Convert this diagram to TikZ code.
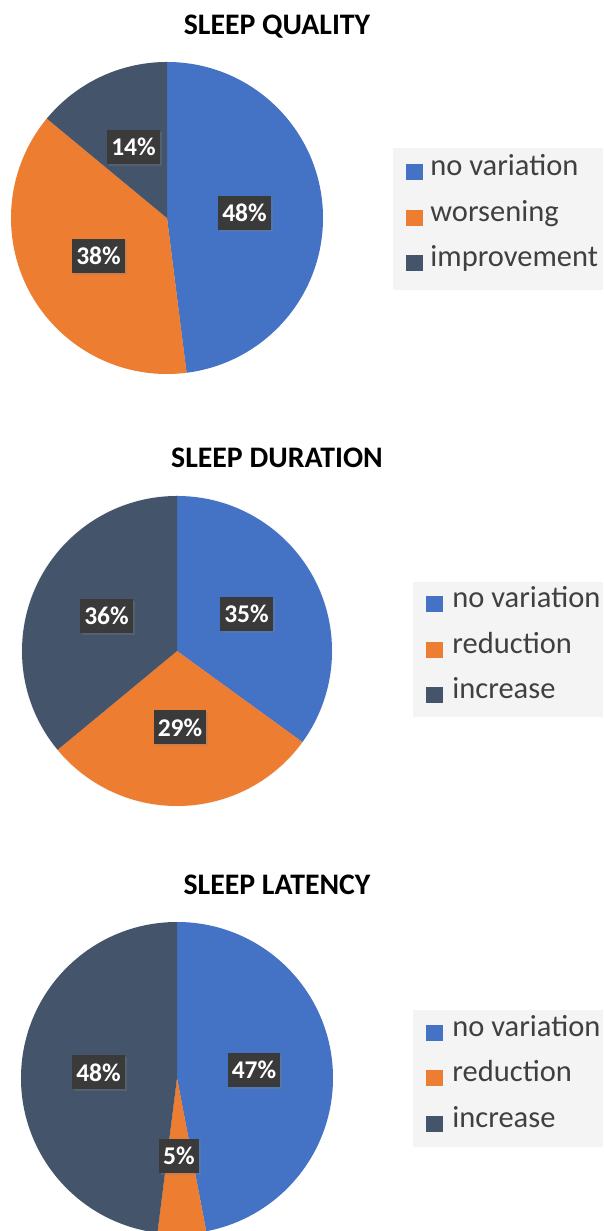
\documentclass[tikz,border=0pt]{standalone}
\usepackage{fontspec}
\setmainfont{Carlito}
\usetikzlibrary{positioning, shadows}

\definecolor{slblue}{HTML}{4472C4}
\definecolor{slorange}{HTML}{ED7D31}
\definecolor{sldark}{HTML}{44546A}
\definecolor{lblbox}{HTML}{3A3A3A}
\definecolor{legbg}{HTML}{F4F4F4}
\definecolor{legtxt}{HTML}{404040}

\begin{document}
\begin{tikzpicture}[
  x=1pt, y=1pt,
  charttitle/.style={font=\fontsize{29.8}{32}\selectfont\bfseries, text=black, anchor=base, inner sep=0pt},
  pct/.style={rectangle, fill=lblbox, text=white, font=\fontsize{25.5}{28}\selectfont\bfseries,
    inner xsep=4pt, inner ysep=0pt, minimum height=34pt,
    drop shadow={opacity=0.3, shadow xshift=2pt, shadow yshift=-2pt}},
  legbox/.style={fill=legbg},
  legsq/.style={rectangle, minimum width=17pt, minimum height=16pt, inner sep=0pt},
  legtext/.style={font=\fontsize{30.5}{32}\selectfont, text=legtxt, inner sep=0pt,
    text height=0.78em, text depth=0.22em},
  pieshadow/.style={fill=black, opacity=0.025}
]
\useasboundingbox[fill=white] (0,0) rectangle (603,1231);

% Pie centres
\coordinate (qc) at (167,1013);
\coordinate (dc) at (177,580);
\coordinate (lc) at (177,153);

% Soft shadows under the pies
\foreach \p in {qc, dc, lc} {
  \foreach \k in {1,...,6} {
    \fill[pieshadow, yshift=-2pt] (\p) circle[radius=150+\k];
  }
}

% Chart 1: sleep quality
\node[charttitle] (t1) at (277,1196) {SLEEP QUALITY};
\foreach \a/\b/\c in {90/-82.8/slblue, -82.8/-219.6/slorange, -219.6/-270/sldark} {
  \fill[\c] (qc) -- ++(\a:156) arc[start angle=\a, end angle=\b, radius=156] -- cycle;
}
\node[pct] (q48) at (244.5,1018) {48\%};
\node[pct] (q14) at (133.5,1084) {14\%};
\node[pct] (q38) at (98.5,975) {38\%};

\fill[legbox] (393,941) rectangle (603,1083);
\node[legsq, fill=slblue] (qm1) at (414.5,1058.5) {};
\node[legsq, fill=slorange] (qm2) at (414.5,1012.5) {};
\node[legsq, fill=sldark] (qm3) at (414.5,967.5) {};
\node[legtext, right=7pt of qm1] (ql1) {no variation};
\node[legtext, right=7pt of qm2] (ql2) {worsening};
\node[legtext, right=7pt of qm3] (ql3) {improvement};

% Chart 2: sleep duration
\node[charttitle] (t2) at (277,763) {SLEEP DURATION};
\foreach \a/\b/\c in {90/-36/slblue, -36/-140.4/slorange, -140.4/-270/sldark} {
  \fill[\c] (dc) -- ++(\a:155) arc[start angle=\a, end angle=\b, radius=155] -- cycle;
}
\node[pct] (d36) at (106.5,615) {36\%};
\node[pct] (d35) at (246.5,617) {35\%};
\node[pct] (d29) at (180,503.5) {29\%};

\fill[legbox] (413,514) rectangle (603,649);
\node[legsq, fill=slblue] (dm1) at (434.5,626.5) {};
\node[legsq, fill=slorange] (dm2) at (434.5,580.5) {};
\node[legsq, fill=sldark] (dm3) at (434.5,535.5) {};
\node[legtext, right=9pt of dm1] (dl1) {no variation};
\node[legtext, right=9pt of dm2] (dl2) {reduction};
\node[legtext, right=9pt of dm3] (dl3) {increase};

% Chart 3: sleep latency
\node[charttitle] (t3) at (277,336) {SLEEP LATENCY};
\foreach \a/\b/\c in {90/-79.2/slblue, -79.2/-97.2/slorange, -97.2/-270/sldark} {
  \fill[\c] (lc) -- ++(\a:156) arc[start angle=\a, end angle=\b, radius=156] -- cycle;
}
\node[pct] (l48) at (98.5,158.5) {48\%};
\node[pct] (l47) at (254,161) {47\%};
\node[pct] (l5) at (179,75) {5\%};

\fill[legbox] (413,84) rectangle (603,221);
\node[legsq, fill=slblue] (lm1) at (434.5,197.5) {};
\node[legsq, fill=slorange] (lm2) at (434.5,152.5) {};
\node[legsq, fill=sldark] (lm3) at (434.5,106.5) {};
\node[legtext, right=9pt of lm1] (ll1) {no variation};
\node[legtext, right=9pt of lm2] (ll2) {reduction};
\node[legtext, right=9pt of lm3] (ll3) {increase};

\end{tikzpicture}
\end{document}
